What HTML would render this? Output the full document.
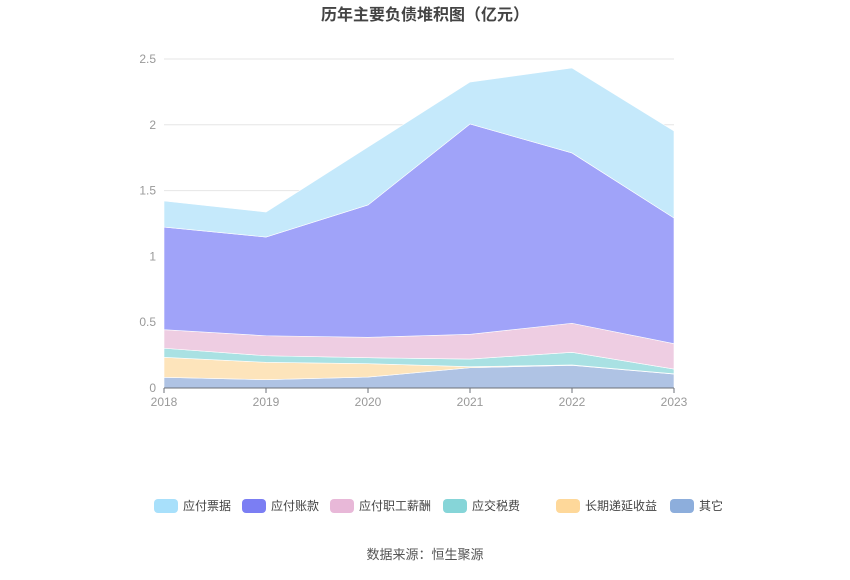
<!DOCTYPE html>
<html><head><meta charset="utf-8"><style>
body{margin:0;background:#fff;font-family:"Liberation Sans","Noto Sans CJK SC",sans-serif;}
</style></head><body>
<svg width="850" height="575" xmlns="http://www.w3.org/2000/svg">
<text x="425" y="20" text-anchor="middle" font-size="16" font-weight="bold" fill="#444" font-family="Liberation Sans,Noto Sans CJK SC,sans-serif">历年主要负债堆积图（亿元）</text>
<g id="grid"></g><g id="areas"></g><g id="axes"></g><g id="legend"></g>
<text x="425" y="559" text-anchor="middle" font-size="13" fill="#555" font-family="Liberation Sans,Noto Sans CJK SC,sans-serif">数据来源：恒生聚源</text>
</svg>
<script>
const years=['2018','2019','2020','2021','2022','2023'];
const other=[0.081,0.063,0.083,0.154,0.172,0.106];
const deferred=[0.152,0.132,0.102,0.008,0.003,0.002];
const tax=[0.069,0.05,0.045,0.058,0.096,0.036];
const wages=[0.141,0.152,0.155,0.188,0.221,0.193];
const payables=[0.78,0.75,1.006,1.598,1.294,0.955];
const notes=[0.198,0.19,0.44,0.319,0.646,0.661];
const yTicks=[0,0.5,1,1.5,2,2.5];
const tickLabels=['0','0.5','1','1.5','2','2.5'];
const NS='http://www.w3.org/2000/svg';
const x=i=>164+i*102, y=v=>388-v*131.6;
function mk(t,a,p){const e=document.createElementNS(NS,t);for(const k in a)e.setAttribute(k,a[k]);p.appendChild(e);return e;}
const grid=document.getElementById('grid'),areas=document.getElementById('areas'),axes=document.getElementById('axes'),legend=document.getElementById('legend');
yTicks.forEach((v,i)=>{
 if(v>0){const l=mk('line',{x1:164,x2:674,y1:y(v),y2:y(v),stroke:'#e6e6e6'},grid);
 
 }
 const t=mk('text',{x:156,y:y(v)+4,'text-anchor':'end','font-size':12,fill:'#999'},axes);
 t.textContent=tickLabels[i];
 
 
});
const series=[
 {name:'其它',d:other,fill:'#afc3e4',leg:'#8daedc'},
 {name:'长期递延收益',d:deferred,fill:'#fde4bb',leg:'#fed89a'},
 {name:'应交税费',d:tax,fill:'#a9e1e3',leg:'#86d5d8'},
 {name:'应付职工薪酬',d:wages,fill:'#eecde2',leg:'#e8b8d8'},
 {name:'应付账款',d:payables,fill:'#a0a3f9',leg:'#7b7ef3'},
 {name:'应付票据',d:notes,fill:'#c5e9fb',leg:'#a8e0fb'}];
let base=years.map(()=>0);
series.forEach(s=>{
 const top=base.map((b,i)=>b+s.d[i]);
 let pts=top.map((v,i)=>x(i)+','+y(v)).join(' ')+' '+base.map((v,i)=>x(i)+','+y(v)).reverse().join(' ');
 const p=mk('polygon',{points:pts,fill:s.fill,stroke:'#fff','stroke-width':0.6},areas);
 
 
 base=top;
});
mk('line',{x1:164,x2:674,y1:388,y2:388,stroke:'#6e7079'},axes);
years.forEach((yr,i)=>{
 mk('line',{x1:x(i),x2:x(i),y1:388,y2:393,stroke:'#6e7079'},axes);
 const t=mk('text',{x:x(i),y:406,'text-anchor':'middle','font-size':12,fill:'#999'},axes);
 t.textContent=yr;
 
 
});
const legOrder=[5,4,3,2,1,0];
const legX=[154,242,330,443,556,670];
legOrder.forEach((si,k)=>{
 const s=series[si];
 const g=mk('g',{},legend);
 
 
 mk('rect',{x:legX[k],y:499,width:24,height:14,rx:4,fill:s.leg},g);
 const t=mk('text',{x:legX[k]+29,y:510,'font-size':12,fill:'#444'},g);
 t.textContent=s.name;
});
</script>
</body></html>
